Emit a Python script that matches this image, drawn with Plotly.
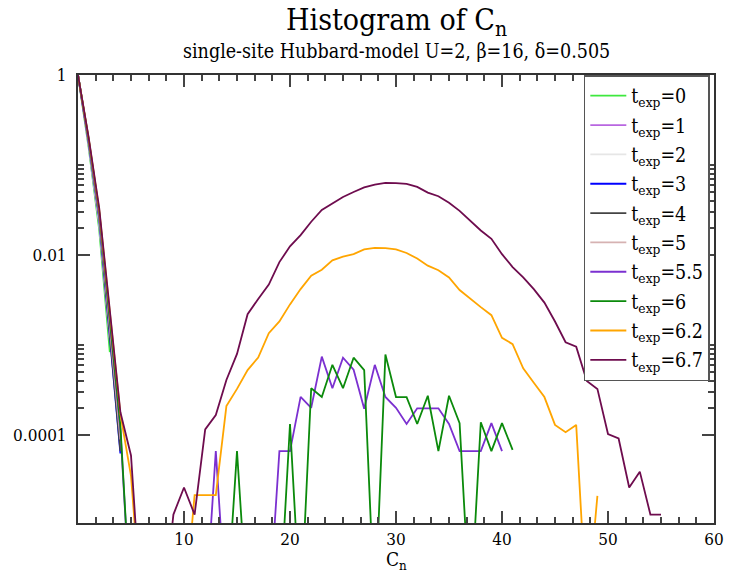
import plotly.graph_objects as go

# ---------------- data ----------------
labels = ["0", "1", "2", "3", "4", "5", "5.5", "6", "6.2", "6.7"]
colors = ["#3ee83e", "#b866e0", "#e6e6e6", "#0000ff", "#444444",
          "#d6b2b2", "#7b30d0", "#0b8a0b", "#ffa500", "#6e0c4e"]

h_t0 = [1, 0.158, 0.0191, 0.00083]
h_t1 = [1, 0.166, 0.0219, 0.00112]
h_t2 = [1, 0.170, 0.0229, 0.0012]
h_t3 = [1, 0.178, 0.0251, 0.00132, 6.2e-5]
h_t4 = [1, 0.182, 0.0263, 0.00141, 6.6e-5]
h_t5 = [1, 0.186, 0.0275, 0.00158, 8.9e-5]
h_t55 = [1, 0.191, 0.0288, 0.00174, 1.12e-4,
         0, 0, 0, 0, 0, 0, 0, 0,
         6.6e-5, 0, 0, 0, 0, 0, 6.6e-5, 6.6e-5,
         2.64e-4, 2.0e-4, 7.4e-4, 3.3e-4, 7.2e-4, 5.3e-4, 1.95e-4, 6.0e-4,
         2.64e-4, 2.0e-4, 1.32e-4, 1.97e-4, 1.97e-4, 1.97e-4, 1.32e-4,
         6.6e-5, 6.6e-5, 6.6e-5, 1.35e-4, 6.6e-5]
h_t6 = [1, 0.195, 0.0302, 0.00191, 1.26e-4,
        0, 0, 0, 0, 0, 0, 0, 0, 0, 0,
        6.6e-5, 0, 0, 0, 0, 1.32e-4, 0,
        3.3e-4, 2.63e-4, 6.0e-4, 3.3e-4, 7.2e-4, 5.25e-4, 0, 7.8e-4,
        2.63e-4, 2.63e-4, 1.32e-4, 2.72e-4, 6.6e-5, 2.72e-4, 1.35e-4, 0,
        1.38e-4, 6.6e-5, 1.35e-4, 6.8e-5]
h_t62 = [1, 0.200, 0.0316, 0.00219, 1.70e-4, 3.5e-5,
         0, 0, 0, 0, 0,
         2.14e-5, 2.14e-5, 2.14e-5, 2.09e-4, 3.24e-4, 5.25e-4, 7.24e-4,
         1.35e-3, 1.82e-3, 2.82e-3, 4.17e-3, 5.89e-3, 6.84e-3, 8.71e-3,
         9.55e-3, 1.02e-2, 1.15e-2, 1.20e-2, 1.19e-2, 1.15e-2, 1.05e-2,
         9.12e-3, 7.59e-3, 6.76e-3, 5.62e-3, 4.07e-3, 3.24e-3, 2.63e-3,
         2.14e-3, 1.20e-3, 1.02e-3, 5.5e-4, 3.8e-4, 2.63e-4, 1.29e-4,
         1.07e-4, 1.29e-4, 0, 2.1e-5]
h_t67 = [1, 0.204, 0.0331, 0.0024, 1.78e-4, 5.9e-5,
         0, 0, 0,
         1.3e-5, 2.6e-5, 1.3e-5, 1.15e-4, 1.66e-4, 4.07e-4, 7.94e-4,
         2.19e-3, 3.24e-3, 4.68e-3, 8.32e-3, 1.245e-2, 1.66e-2, 2.34e-2,
         3.16e-2, 3.72e-2, 4.41e-2, 5.01e-2, 5.62e-2, 6.05e-2, 6.31e-2,
         6.27e-2, 6.17e-2, 5.70e-2, 4.93e-2, 4.49e-2, 3.80e-2, 3.09e-2,
         2.43e-2, 1.87e-2, 1.51e-2, 1.02e-2, 7.33e-3, 5.62e-3, 4.17e-3,
         2.95e-3, 1.82e-3, 1.07e-3, 9.55e-4, 3.98e-4, 3.24e-4, 1.02e-4,
         9.1e-5, 2.6e-5, 3.9e-5, 1.3e-5, 1.3e-5]

series = [h_t0, h_t1, h_t2, h_t3, h_t4, h_t5, h_t55, h_t6, h_t62, h_t67]

x_ticks = [10, 20, 30, 40, 50, 60]
y_ticks = [1, 0.01, 0.0001]
y_ticktext = ["1", "0.01", "0.0001"]
y_minor = [0.02, 0.03, 0.04, 0.05, 0.06, 0.07, 0.08, 0.09, 0.1,
           0.0002, 0.0003, 0.0004, 0.0005, 0.0006, 0.0007, 0.0008, 0.0009, 0.001]

ZERO_FLOOR = 1e-6  # empty bins drawn as a drop below the axis (clipped)

FONT = "DejaVu Serif Condensed, DejaVu Serif, serif"

fig = go.Figure()
for lab, col, vals in zip(labels, colors, series):
    xs = list(range(len(vals)))
    ys = [v if v > 0 else ZERO_FLOOR for v in vals]
    fig.add_trace(go.Scatter(
        x=xs, y=ys, mode="lines",
        name="t<sub>exp</sub>=" + lab,
        line=dict(color=col, width=1.8),
        legendgroup=lab,
    ))

L, R, T, B = 78, 18, 75, 54
W, H = 736, 577
ph = H - T - B

fig.update_layout(
    width=W, height=H,
    margin=dict(l=L, r=R, t=T, b=B),
    paper_bgcolor="white", plot_bgcolor="white",
    font=dict(family=FONT, size=17, color="black"),
    showlegend=True,
    legend=dict(
        x=(587 - L) / 640, y=1.0, xanchor="left", yanchor="top",
        bgcolor="white", bordercolor="#555555", borderwidth=1.5,
        font=dict(family=FONT, size=19.5, color="black"),
        tracegroupgap=1,
        itemwidth=36,
    ),
    xaxis=dict(
        type="linear", range=[0, 60],
        tickmode="array", tickvals=x_ticks,
        ticks="inside", ticklen=12, tickwidth=2, tickcolor="#444444",
        showline=True, linecolor="#333333", linewidth=2, mirror="ticks",
        showgrid=False, zeroline=False,
        minor=dict(tickmode="linear", tick0=0, dtick=10 / 6, ticks="inside",
                   ticklen=6, tickwidth=1.5, tickcolor="#444444", showgrid=False),
        tickfont=dict(family=FONT, size=17),
    ),
    yaxis=dict(
        type="log", range=[-4.98, 0],
        tickmode="array", tickvals=y_ticks, ticktext=y_ticktext,
        ticks="inside", ticklen=12, tickwidth=2, tickcolor="#444444",
        showline=True, linecolor="#333333", linewidth=2, mirror="ticks",
        showgrid=False, zeroline=False,
        minor=dict(tickmode="array", tickvals=y_minor, ticks="inside",
                   ticklen=6, tickwidth=1.5, tickcolor="#444444", showgrid=False),
        tickfont=dict(family=FONT, size=17),
        ticklabelstandoff=6,
    ),
    annotations=[
        dict(text="Histogram of C<sub>n</sub>", xref="paper", yref="paper",
             x=0.5, y=(H - B - 21) / ph, xanchor="center", yanchor="middle",
             showarrow=False, font=dict(family=FONT, size=30, color="black")),
        dict(text="single-site Hubbard-model U=2, β=16, δ=0.505",
             xref="paper", yref="paper",
             x=0.5, y=(H - B - 52) / ph, xanchor="center", yanchor="middle",
             showarrow=False, font=dict(family=FONT, size=19.5, color="black")),
        dict(text="C<sub>n</sub>", xref="paper", yref="paper",
             x=(398 - L) / 640, y=(H - B - 560) / ph, xanchor="center",
             yanchor="middle", showarrow=False,
             font=dict(family=FONT, size=19, color="black")),
    ],
)

fig.write_html("out.html")
